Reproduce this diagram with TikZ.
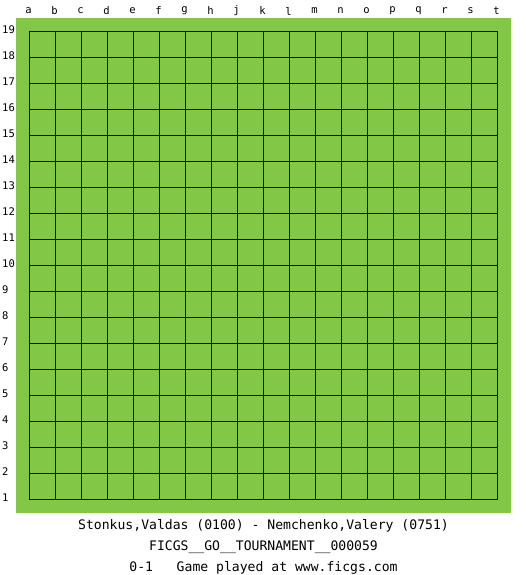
\documentclass[tikz,border=0pt]{standalone}
\usepackage{xcolor}
\usepackage{fontspec}
\newfontfamily\boardfont{DejaVu Sans Mono}
\definecolor{boardGreen}{RGB}{130,200,70}
\colorlet{colorBoard}{boardGreen}
\colorlet{colorGrid}{black}
\colorlet{colorLabel}{black}
\usepackage{tikz}
\usetikzlibrary{positioning}
\tikzset{
  coordlabel/.style={font=\boardfont\fontsize{10.5}{12}\selectfont, colorLabel, inner sep=0pt},
  infoline/.style={font=\boardfont\fontsize{13.1}{15}\selectfont, colorLabel, inner sep=0pt, text height=10pt, text depth=3pt}
}

\begin{document}
\begin{tikzpicture}[x=1pt, y=-1pt, node distance=7.5pt]
\useasboundingbox (0,0) rectangle (525,575);
\fill[colorBoard] (16,18) rectangle (511,513);
% board lines
\foreach \i in {0,...,18} {
  \draw[colorGrid, line width=1.2pt] (29.5+26*\i,31.5) -- (29.5+26*\i,499.5);
  \draw[colorGrid, line width=1.2pt] (29.5,31.5+26*\i) -- (497.5,31.5+26*\i);
}
% column letters
\foreach \l [count=\i from 0] in {a,b,c,d,e,f,g,h,j,k,l,m,n,o,p,q,r,s,t}
  \node[coordlabel] (col\l) at (28.5+26*\i,11) {\l};
% row numbers
\foreach \n in {1,...,19}
  \node[coordlabel, anchor=west] (row\n) at (2,497.5-26*\n+26) {\n};
% game info
\node[infoline] (players) at (263.5,526) {Stonkus,Valdas (0100) - Nemchenko,Valery (0751)};
\node[infoline, below=of players] (event) {FICGS\_\_GO\_\_TOURNAMENT\_\_000059};
\node[infoline, below=of event] (result) {0-1~~~Game played at www.ficgs.com};
\end{tikzpicture}
\end{document}
